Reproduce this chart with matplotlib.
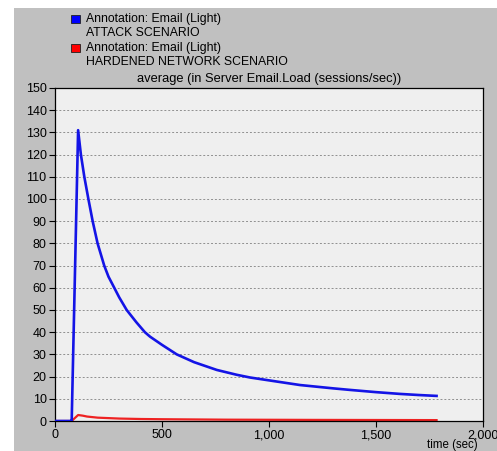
import matplotlib
matplotlib.use("Agg")
import matplotlib.pyplot as plt
from matplotlib.patches import Rectangle
from matplotlib.ticker import FuncFormatter

plt.rcParams["font.family"] = "Liberation Sans"

# attack scenario (blue)
attack_t = [0, 36, 72, 78, 108, 121, 137, 156, 176, 199, 230, 250, 277, 300,
            335, 380, 420, 444, 500, 569, 650, 756, 850, 911, 1000, 1145,
            1300, 1379, 1500, 1612, 1700, 1783]
attack_v = [0, 0, 0, 0, 131, 120, 110, 100, 90, 80, 70, 65, 60, 55.7,
            50, 44.5, 40, 38.0, 34.3, 30, 26.5, 23, 20.8, 19.6, 18.3, 16.2,
            14.7, 14, 13.0, 12.2, 11.7, 11.3]

# hardened network scenario (red)
hard_t = [0, 72, 78, 108, 130, 150, 200, 250, 300, 400, 500, 650, 800, 1000,
          1200, 1500, 1783]
hard_v = [0, 0, 0, 2.7, 2.4, 2.0, 1.5, 1.3, 1.1, 0.9, 0.8, 0.7, 0.6, 0.55,
          0.5, 0.45, 0.4]

legend_lines = [("Annotation: Email (Light)", "ATTACK SCENARIO", "#0000ff"),
                ("Annotation: Email (Light)", "HARDENED NETWORK SCENARIO", "#ff0000")]

W, H = 497, 451
fig = plt.figure(figsize=(W / 100, H / 100), dpi=100)
fig.patch.set_facecolor("white")
fig.patches.append(Rectangle((14 / W, 0), 1 - 14 / W, 1 - 8 / H,
                             transform=fig.transFigure, facecolor="#c0c0c0",
                             edgecolor="none", zorder=-5))

ax = fig.add_axes([55 / W, 30 / H, 428 / W, 333 / H])
ax.set_zorder(2)
ax.set_facecolor("#efefef")

ax.plot(attack_t, attack_v, color="#1414e6", lw=1.9, zorder=3)
ax.plot(hard_t, hard_v, color="#ee2222", lw=1.6, zorder=2)

ax.set_xlim(0, 2000)
ax.set_ylim(0, 150)
ax.set_xticks([0, 500, 1000, 1500, 2000])
ax.set_yticks(range(0, 151, 10))
ax.xaxis.set_major_formatter(FuncFormatter(lambda v, p: "{:,}".format(int(v))))
ax.tick_params(direction="out", length=4.5, width=0.8, color="black",
               labelsize=9, pad=1.5)
for y in range(10, 150, 10):
    ax.axhline(y, color="#909090", lw=0.7, ls=(0, (2, 2)), zorder=1)
for s in ax.spines.values():
    s.set_color("black")
    s.set_linewidth(0.9)

fs = 8.8
ax.text(0.5, 1.008, "average (in Server Email.Load (sessions/sec))",
        transform=ax.transAxes, ha="center", va="bottom", fontsize=9.3)

for i, (l1, l2, col) in enumerate(legend_lines):
    y0 = 19 + i * 29
    fig.patches.append(Rectangle((71 / W, 1 - (y0 + 4) / H), 9 / W, 8 / H,
                                 transform=fig.transFigure, facecolor=col,
                                 edgecolor="#202020", lw=0.6, zorder=1))
    fig.text(86 / W, 1 - y0 / H, l1, ha="left", va="center", fontsize=fs)
    fig.text(86 / W, 1 - (y0 + 14) / H, l2, ha="left", va="center", fontsize=fs)

fig.text(478 / W, 1 - 451 / H, "time (sec)", ha="right", va="bottom", fontsize=8.3)

fig.savefig("out.png", dpi=100)
